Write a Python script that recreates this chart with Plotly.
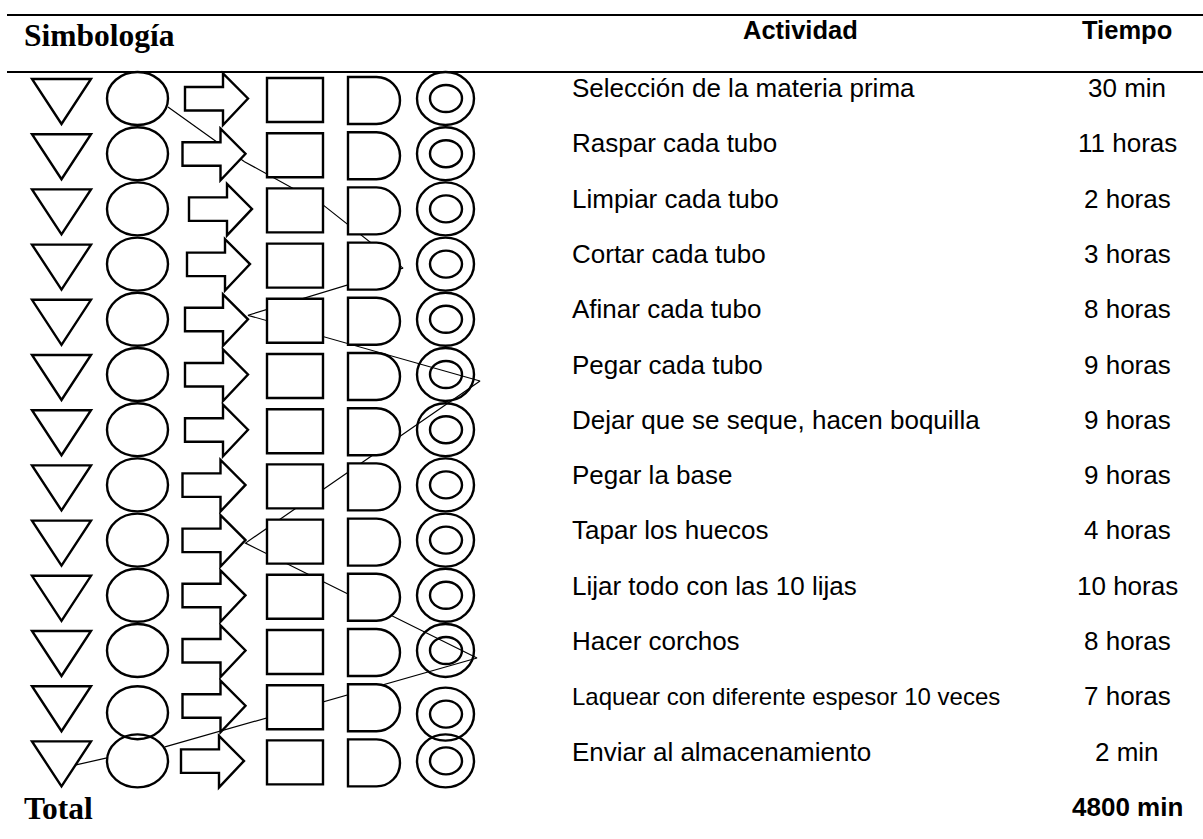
import plotly.graph_objects as go

# ---------------- data ----------------
symbol_names = ["Almacenamiento", "Operación", "Transporte", "Inspección", "Demora", "Actividad combinada"]
activities = [
    "Selección de la materia prima",
    "Raspar cada tubo",
    "Limpiar cada tubo",
    "Cortar cada tubo",
    "Afinar cada tubo",
    "Pegar cada tubo",
    "Dejar que se seque, hacen boquilla",
    "Pegar la base",
    "Tapar los huecos",
    "Lijar todo con las 10 lijas",
    "Hacer corchos",
    "Laquear con diferente espesor 10 veces",
    "Enviar al almacenamiento",
]
times = ["30 min", "11 horas", "2 horas", "3 horas", "8 horas", "9 horas", "9 horas",
         "9 horas", "4 horas", "10 horas", "8 horas", "7 horas", "2 min"]
total_label = "Total"
total_value = "4800 min"
headers = ["Simbología", "Actividad", "Tiempo"]

# route of the connecting line: (row, symbol)
route_rows = [0, 1, 2, 3, 4, 5, 8, 10, 12, 12, 12]
route_symbols = ["Operación", "Transporte", "Inspección", "Demora", "Transporte",
                 "Actividad combinada", "Transporte", "Actividad combinada",
                 "Operación", "Operación", "Almacenamiento"]

# ---------------- geometry (pixels) ----------------
W, H = 1203, 839
ROW0_SYM = 98.5
ROW0_TXT = 88.0
STEP_SYM = 55.2
STEP_TXT = 55.3
sym_cx = {"Almacenamiento": 61.5, "Operación": 137.5, "Transporte": 216.5,
          "Inspección": 295.0, "Demora": 374.0, "Actividad combinada": 445.5}
# hand-drawn irregularities of the original sheet
arrow_dx = [0, -2.5, 4, 2, 0, 0, 0, -2.5, -2.5, -2.5, -2.5, -2.5, -4]
ring_dy = [0] * 11 + [7, 0]
# where the connector touches each route step (offset from symbol centre)
route_offsets = [(30.5, 8.5), (28.0, 8.0), (28.0, -4.0), (29.0, 4.0), (31.5, -4.0),
                 (34.5, 6.5), (29.0, 3.0), (31.5, 7.5), (27.5, -14.0), (-30.5, -3.0),
                 (14.5, 4.0)]
route_breaks = [8]  # no line drawn between step 8 and 9 (hidden inside the circle)

LW = 2.4
BLACK = "#000000"

def cy(i):
    return ROW0_SYM + STEP_SYM * i

def ty(i):
    return ROW0_TXT + STEP_TXT * i

shapes = []

def path_shape(path):
    shapes.append(dict(type="path", path=path, xref="x", yref="y",
                       line=dict(color=BLACK, width=LW), fillcolor="white", layer="above"))

def ellipse(x0, x1, y0, y1):
    shapes.append(dict(type="circle", x0=x0, x1=x1, y0=y0, y1=y1, xref="x", yref="y",
                       line=dict(color=BLACK, width=LW), fillcolor="rgba(0,0,0,0)", layer="above"))

K = 0.5523
for i in range(len(activities)):
    c = cy(i)
    # triangle (almacenamiento)
    path_shape(f"M32,{c-19.5} L91,{c-19.5} L61.5,{c+25.5} Z")
    # operation ellipse
    cr = c + ring_dy[i]
    ellipse(107, 168, cr - 26.5, cr + 26.5)
    # transport arrow
    d = arrow_dx[i]
    path_shape(f"M{185+d},{c-11.5} L{223+d},{c-11.5} L{223+d},{c-25} L{248+d},{c} "
               f"L{223+d},{c+26.5} L{223+d},{c+12} L{185+d},{c+12} Z")
    # inspection square
    path_shape(f"M267,{c-20.5} L323,{c-20.5} L323,{c+23.5} L267,{c+23.5} Z")
    # delay D
    r = 23.5
    ac = c + 2
    xa = 376.5
    path_shape(f"M348,{c-21.5} L{xa},{c-21.5} C{xa+K*r},{c-21.5} {xa+r},{ac-K*r} {xa+r},{ac} "
               f"C{xa+r},{ac+K*r} {xa+K*r},{c+25.5} {xa},{c+25.5} L348,{c+25.5} Z")
    # combined double circle
    cd = c + ring_dy[i] * 1.2
    ellipse(417, 474, cd - 26.5, cd + 26.5)
    ellipse(430, 462, cd - 13.5, cd + 13.5)

# horizontal rules
for yy in (15, 72):
    shapes.append(dict(type="line", x0=7, x1=W, y0=yy, y1=yy, xref="x", yref="y",
                       line=dict(color=BLACK, width=2.2)))

fig = go.Figure()

# connector line
pts = []
for k, (row, sym) in enumerate(zip(route_rows, route_symbols)):
    dx, dy = route_offsets[k]
    pts.append((sym_cx[sym] + dx, cy(row) + dy))
xs, ys = [], []
for k, (x, y) in enumerate(pts):
    xs.append(x)
    ys.append(y)
    if k in route_breaks:
        xs.append(None)
        ys.append(None)
fig.add_trace(go.Scatter(x=xs, y=ys, mode="lines", line=dict(color=BLACK, width=1.2),
                         hoverinfo="skip", showlegend=False))

SANS = "Liberation Sans, Arial, sans-serif"
SERIF = "Liberation Serif, Times New Roman, serif"
ann = []
ann.append(dict(x=22, y=35.5, text=f"<b>{headers[0]}</b>", xanchor="left", yanchor="middle",
                font=dict(family=SERIF, size=31.5, color=BLACK)))
ann.append(dict(x=800, y=30, text=f"<b>{headers[1]}</b>", xanchor="center", yanchor="middle",
                font=dict(family=SANS, size=25.5, color=BLACK)))
ann.append(dict(x=1127, y=30, text=f"<b>{headers[2]}</b>", xanchor="center", yanchor="middle",
                font=dict(family=SANS, size=25.5, color=BLACK)))
for i, (a, t) in enumerate(zip(activities, times)):
    fs = 24 if len(a) > 34 else 26
    ann.append(dict(x=570, y=ty(i), text=a, xanchor="left", yanchor="middle",
                    font=dict(family=SANS, size=fs, color=BLACK)))
    ann.append(dict(x=1127, y=ty(i), text=t, xanchor="center", yanchor="middle",
                    font=dict(family=SANS, size=26, color=BLACK)))
ann.append(dict(x=22, y=808.5, text=f"<b>{total_label}</b>", xanchor="left", yanchor="middle",
                font=dict(family=SERIF, size=31.5, color=BLACK)))
ann.append(dict(x=1127, y=807, text=f"<b>{total_value}</b>", xanchor="center", yanchor="middle",
                font=dict(family=SANS, size=26, color=BLACK)))
for a in ann:
    a.update(xref="x", yref="y", showarrow=False)

fig.update_layout(
    width=W, height=H, autosize=False,
    margin=dict(l=0, r=0, t=0, b=0, pad=0),
    paper_bgcolor="white", plot_bgcolor="white",
    xaxis=dict(range=[0, W], visible=False, fixedrange=True),
    yaxis=dict(range=[H, 0], visible=False, fixedrange=True),
    shapes=shapes, annotations=ann, showlegend=False,
)

fig.write_html("out.html", config={"displayModeBar": False},
               post_script="document.body.style.margin='0';document.body.style.overflow='hidden';")
